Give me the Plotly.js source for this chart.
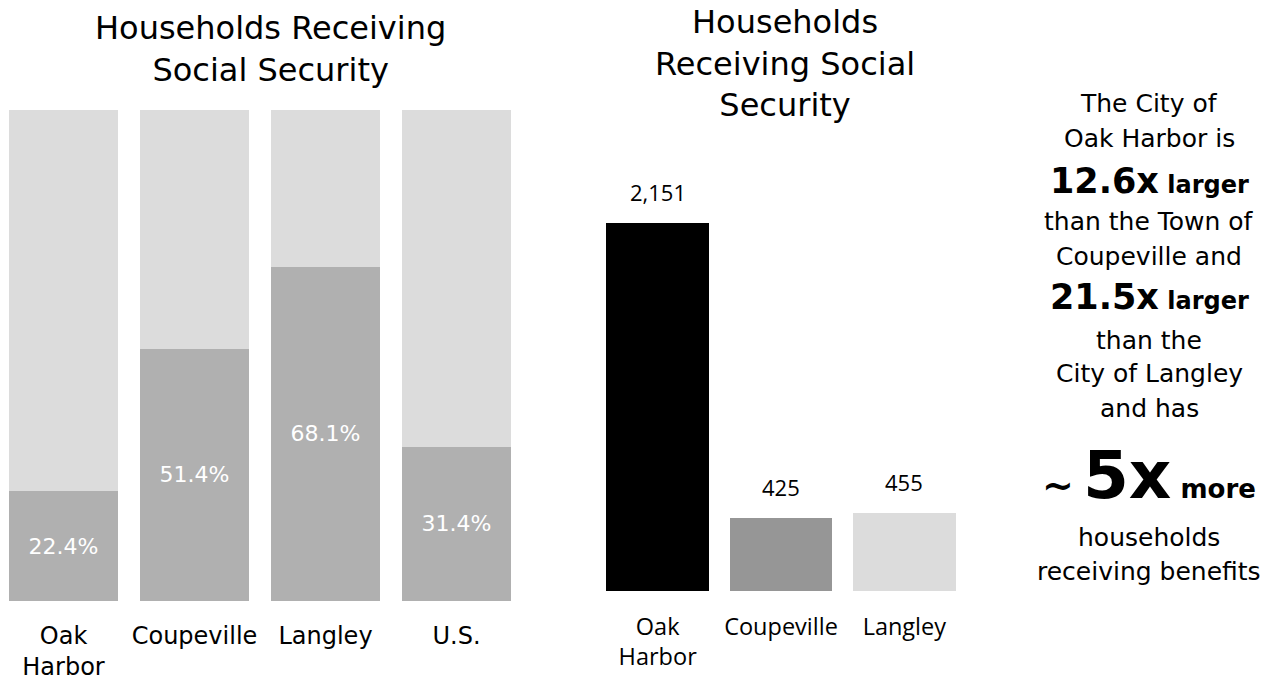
<!DOCTYPE html>
<html>
<head>
<meta charset="utf-8">
<script src="https://cdn.plot.ly/plotly-3.0.1.min.js"></script>
<style>html,body{margin:0;padding:0;background:#fff;}#chart{width:1276px;height:682px;}</style>
</head>
<body>
<div id="chart"></div>
<script>
// Left chart: share of households receiving Social Security (100% stacked)
const shareCategories = ["Oak<br>Harbor", "Coupeville", "Langley", "U.S."];
const shareReceiving = [22.4, 51.4, 68.1, 31.4];
const shareRemainder = [77.6, 48.6, 31.9, 68.6];
const shareLabels = ["22.4%", "51.4%", "68.1%", "31.4%"];

// Right chart: number of households receiving Social Security
const countCategories = ["Oak<br>Harbor", "Coupeville", "Langley"];
const countValues = [2151, 425, 455];
const countLabels = ["2,151", "425", "455"];
const countColors = ["#000000", "#969696", "#dcdcdc"];

const W = 1276, H = 682;
const py = p => 1 - p / H;
const FONT = "DejaVu Sans";
const FONT2 = "Open Sans";

const traces = [
  {
    type: "bar", x: shareCategories, y: shareReceiving, xaxis: "x", yaxis: "y",
    marker: {color: "#b0b0b0"},
    text: shareLabels, textposition: "inside", insidetextanchor: "middle",
    textfont: {family: FONT, size: 22, color: "#ffffff"},
    hoverinfo: "none"
  },
  {
    type: "bar", x: shareCategories, y: shareRemainder, xaxis: "x", yaxis: "y",
    marker: {color: "#dcdcdc"}, hoverinfo: "none"
  },
  {
    type: "bar", x: countCategories, y: countValues, xaxis: "x2", yaxis: "y2",
    marker: {color: countColors}, hoverinfo: "none"
  }
];

const annotations = [
  {xref: "paper", yref: "paper", x: 270 / W, y: py(49), text: "Households Receiving<br>Social Security",
   showarrow: false, xanchor: "center", yanchor: "middle", font: {family: FONT, size: 32, color: "#000"}},
  {xref: "paper", yref: "paper", x: 785 / W, y: py(63), text: "Households<br>Receiving Social<br>Security",
   showarrow: false, xanchor: "center", yanchor: "middle", font: {family: FONT, size: 32, color: "#000"}}
];

countCategories.forEach((c, i) => {
  annotations.push({xref: "x2", yref: "y2", x: c, y: countValues[i], text: countLabels[i],
    showarrow: false, xanchor: "center", yanchor: "bottom", yshift: 14,
    font: {family: FONT2, size: 22, color: "#000"}});
});

const side = [
  ["The City of", 104, 25],
  ["Oak Harbor is", 138, 25],
  ["<b><span style='font-size:35px'>12.6x</span> <span style='font-size:24px'>larger</span></b>", 181, 24],
  ["than the Town of", 222, 25],
  ["Coupeville and", 256, 25],
  ["<b><span style='font-size:35px'>21.5x</span> <span style='font-size:24px'>larger</span></b>", 297, 24],
  ["than the", 340, 25],
  ["City of Langley", 373, 25],
  ["and has", 408, 25],
  ["<b><span style='font-size:38px'>~</span> <span style='font-size:66px'>5x</span> <span style='font-size:26px'>more</span></b>", 475, 26],
  ["households", 537, 25],
  ["receiving benefits", 571, 25]
];
side.forEach(s => {
  annotations.push({xref: "paper", yref: "paper", x: 1149 / W, y: py(s[1]), text: s[0],
    showarrow: false, xanchor: "center", yanchor: "middle",
    font: {family: FONT, size: s[2], color: "#000"}});
});

const layout = {
  width: W, height: H,
  margin: {l: 0, r: 0, t: 0, b: 0},
  paper_bgcolor: "#ffffff", plot_bgcolor: "#ffffff",
  barmode: "stack", bargap: 0.167, showlegend: false,
  xaxis: {domain: [0, 522 / W], range: [-0.485, 3.5], showgrid: false, zeroline: false, showline: false,
          ticks: "", tickfont: {family: FONT, size: 24, color: "#000"}, ticklabelstandoff: 18, fixedrange: true},
  yaxis: {domain: [py(601), py(110)], range: [0, 100], showgrid: false, zeroline: false, showline: false,
          showticklabels: false, ticks: "", fixedrange: true},
  xaxis2: {domain: [596 / W, 966 / W], anchor: "y2", showgrid: false, zeroline: false, showline: false,
           ticks: "", tickfont: {family: FONT2, size: 23.5, color: "#000"}, ticklabelstandoff: 19, fixedrange: true},
  yaxis2: {domain: [py(591), py(110)], range: [0, 2811], anchor: "x2", showgrid: false, zeroline: false,
           showline: false, showticklabels: false, ticks: "", fixedrange: true},
  annotations: annotations
};

Plotly.newPlot("chart", traces, layout, {displayModeBar: false, staticPlot: true});
</script>
</body>
</html>
